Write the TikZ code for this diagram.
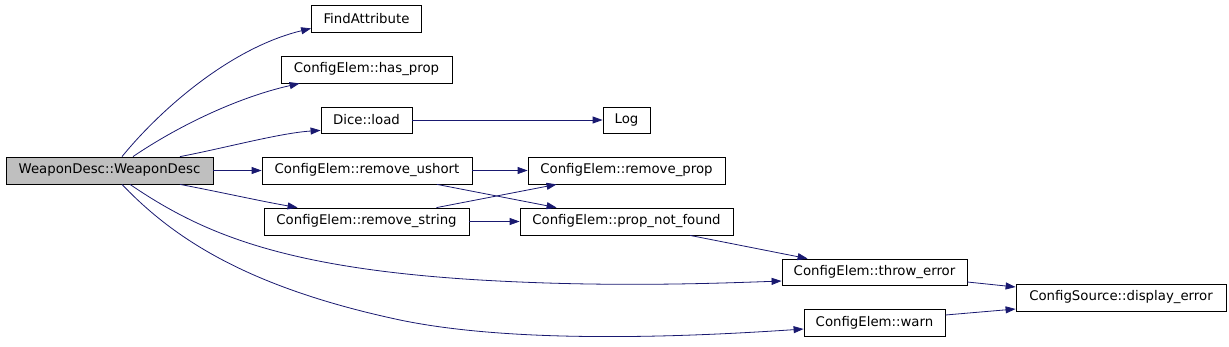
\documentclass[tikz,border=0pt]{standalone}
\usepackage{fontspec}
\setmainfont{DejaVu Sans}
\usetikzlibrary{arrows.meta}
\definecolor{edgeblue}{HTML}{191970}
\definecolor{boxgrey}{HTML}{BFBFBF}
\begin{document}
\begin{tikzpicture}[x=1pt,y=-1pt,
  fn/.style={draw=black,line width=0.8pt,fill=white,inner sep=0pt,anchor=center,
    font=\fontsize{13.3}{15}\selectfont},
  call/.style={draw=edgeblue,line width=0.8pt,-{Triangle[length=10pt,width=7pt]}}]
\useasboundingbox (0,0) rectangle (1229,346);
% nodes
\node[fn,fill=boxgrey,minimum width=207pt,minimum height=27pt] (wd) at (109.5,170.5) {WeaponDesc::WeaponDesc};
\node[fn,minimum width=110pt,minimum height=27pt] (fa) at (366.5,18.5) {FindAttribute};
\node[fn,minimum width=171pt,minimum height=27pt] (hp) at (366.5,69.5) {ConfigElem::has\_prop};
\node[fn,minimum width=91pt,minimum height=26pt] (dl) at (366.5,120) {Dice::load};
\node[fn,minimum width=47pt,minimum height=26pt] (log) at (626.5,120) {Log};
\node[fn,minimum width=210pt,minimum height=27pt] (ru) at (367,170.5) {ConfigElem::remove\_ushort};
\node[fn,minimum width=197pt,minimum height=27pt] (rp) at (626.5,170.5) {ConfigElem::remove\_prop};
\node[fn,minimum width=205pt,minimum height=27pt] (rs) at (366.5,221.5) {ConfigElem::remove\_string};
\node[fn,minimum width=213pt,minimum height=27pt] (pnf) at (626.5,221.5) {ConfigElem::prop\_not\_found};
\node[fn,minimum width=185pt,minimum height=26pt] (te) at (874.5,272) {ConfigElem::throw\_error};
\node[fn,minimum width=210pt,minimum height=27pt] (de) at (1121,297.5) {ConfigSource::display\_error};
\node[fn,minimum width=141pt,minimum height=27pt] (wn) at (874.5,322.5) {ConfigElem::warn};
% edges
\draw[call] ([xshift=12.5pt]wd.north) .. controls (160,110) and (230,48) .. ([yshift=4pt]fa.south west);
\draw[call] ([xshift=23.5pt]wd.north) .. controls (175,128) and (235,98) .. ([xshift=19pt]hp.south west);
\draw[call] ([xshift=70.5pt]wd.north) .. controls (225,148) and (280,133) .. ([yshift=3pt]dl.south west);
\draw[call] (wd.east) -- (ru.west);
\draw[call] ([xshift=70.5pt]wd.south) .. controls (220,192) and (260,201) .. ([xshift=34pt]rs.north west);
\draw[call] ([xshift=20.5pt]wd.south) .. controls (200,232) and (280,268) .. (480,280) .. controls (600,287) and (700,284) .. ([yshift=-9pt]te.west);
\draw[call] ([xshift=12.5pt]wd.south) .. controls (175,240) and (250,288) .. (400,320) .. controls (520,345) and (700,336) .. ([yshift=-6.5pt]wn.west);
\draw[call] (dl.east) -- (log.west);
\draw[call] (ru.east) -- (rp.west);
\draw[call] ([xshift=70pt]ru.south) -- ([xshift=37pt]pnf.north west);
\draw[call] ([xshift=70pt]rs.north) -- ([xshift=29pt]rp.south west);
\draw[call] (rs.east) -- (pnf.west);
\draw[call] ([xshift=63.5pt]pnf.south) -- ([xshift=26pt]te.north west);
\draw[call] ([yshift=-10pt]te.east) -- ([yshift=10.5pt]de.west);
\draw[call] ([yshift=7.5pt]wn.east) -- ([yshift=-11.5pt]de.west);
\end{tikzpicture}
\end{document}
